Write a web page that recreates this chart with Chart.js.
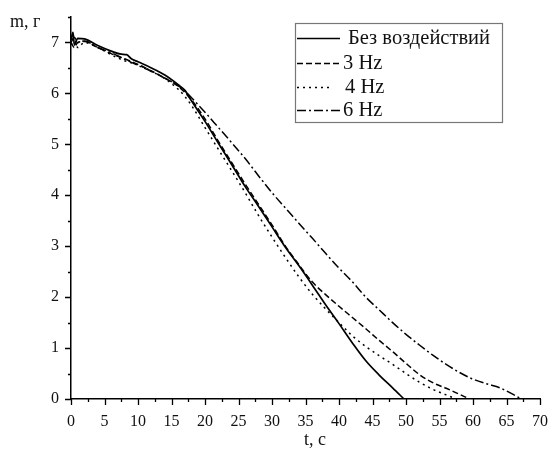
<!doctype html>
<html lang="ru">
  <head>
    <meta charset="utf-8">
    <title>m(t)</title>
    <style>
      * { margin: 0; padding: 0; }
      body { background: #fff; }
      .chartBox { width: 549px; height: 450px; }
    </style>
  </head>
  <body>
    <div class="chartBox">
      <canvas id="myChart"></canvas>
    </div>
    <script src="https://cdn.jsdelivr.net/npm/chart.js/dist/chart.umd.min.js"></script>
    <script>
      // data
      const seriesLabels = ['Без воздействий', '3 Hz', '4 Hz', '6 Hz'];

      const t0 = [0, 0.3, 0.5, 1, 2, 4, 6, 7.5, 8.3, 9, 10, 12, 14, 16, 17, 18, 20, 22, 24, 26, 28, 30, 32, 34, 36, 38, 40, 42, 44, 46, 48, 49.7];
      const m0 = [7.05, 7.2, 6.95, 7.08, 7.07, 6.94, 6.83, 6.77, 6.76, 6.68, 6.62, 6.5, 6.36, 6.17, 6.06, 5.85, 5.45, 5.02, 4.6, 4.17, 3.78, 3.38, 2.98, 2.62, 2.24, 1.85, 1.48, 1.1, 0.75, 0.47, 0.22, 0];

      const t3 = [0, 0.5, 1, 2, 4, 6, 8, 10, 12, 14, 16, 18, 20, 22, 24, 26, 28, 30, 32, 34, 36, 38, 40, 42, 44, 46, 48, 50, 52, 54, 56, 58, 59.5];
      const m3 = [7.0, 6.9, 7.0, 7.02, 6.9, 6.78, 6.68, 6.57, 6.44, 6.3, 6.14, 5.87, 5.5, 5.06, 4.64, 4.22, 3.82, 3.42, 3.0, 2.64, 2.3, 2.05, 1.82, 1.6, 1.38, 1.15, 0.93, 0.7, 0.48, 0.32, 0.21, 0.09, 0];

      const t4 = [0, 0.5, 1, 2, 4, 6, 8, 10, 12, 14, 16, 17, 18, 20, 22, 24, 26, 28, 30, 32, 34, 36, 38, 40, 42, 44, 46, 48, 50, 52, 54, 56, 57.5];
      const m4 = [6.95, 7.1, 6.9, 7.0, 6.9, 6.76, 6.64, 6.56, 6.44, 6.29, 6.08, 5.94, 5.76, 5.33, 4.9, 4.48, 4.05, 3.6, 3.18, 2.78, 2.4, 2.06, 1.77, 1.5, 1.24, 1.03, 0.85, 0.68, 0.5, 0.33, 0.19, 0.08, 0];

      const t6 = [0, 0.5, 1, 2, 4, 6, 8, 10, 12, 14, 16, 17, 18.8, 20, 22, 24, 26, 28, 30, 32, 34, 36, 38, 40, 42, 44, 46, 48, 50, 52, 54, 56, 58, 60, 62, 64, 66, 67.2];
      const m6 = [7.0, 7.1, 7.0, 7.03, 6.9, 6.8, 6.67, 6.55, 6.43, 6.3, 6.15, 6.05, 5.8, 5.63, 5.33, 5.03, 4.72, 4.38, 4.05, 3.75, 3.45, 3.16, 2.86, 2.57, 2.3, 2.0, 1.75, 1.5, 1.27, 1.06, 0.86, 0.68, 0.52, 0.39, 0.3, 0.22, 0.09, 0];

      const xTicks = [0, 5, 10, 15, 20, 25, 30, 35, 40, 45, 50, 55, 60, 65, 70];
      const yTicks = [0, 1, 2, 3, 4, 5, 6, 7];

      const serif = '"Liberation Serif", "Times New Roman", serif';
      const toPoints = (ts, ms) => ts.map((t, i) => ({ x: t, y: ms[i] }));

      const dashes = [[], [6, 3], [2, 4], [9, 3, 2, 3]];
      const sets = [[t0, m0], [t3, m3], [t4, m4], [t6, m6]];

      const data = {
        datasets: sets.map((s, i) => ({
          label: seriesLabels[i],
          data: toPoints(s[0], s[1]),
          borderColor: '#000',
          borderWidth: i === 0 ? 1.7 : 1.5,
          borderDash: dashes[i],
          pointRadius: 0,
          fill: false,
          cubicInterpolationMode: 'monotone'
        }))
      };

      // tick marks, axis titles and the boxed legend
      const decor = {
        id: 'decor',
        afterDraw(chart) {
          const { ctx, chartArea: a, scales: { x, y } } = chart;
          ctx.save();
          ctx.strokeStyle = '#000';
          ctx.lineWidth = 1.3;
          ctx.beginPath();
          for (let v = 0; v <= 70; v += 2.5) {
            const px = Math.round(x.getPixelForValue(v)) + 0.5;
            ctx.moveTo(px, a.bottom);
            ctx.lineTo(px, a.bottom + (v % 5 === 0 ? 6 : 3));
          }
          for (let v = 0; v <= 7.5; v += 0.5) {
            const py = Math.round(y.getPixelForValue(v)) + 0.5;
            ctx.moveTo(a.left, py);
            ctx.lineTo(a.left - (v % 1 === 0 ? 6 : 3), py);
          }
          ctx.stroke();

          ctx.fillStyle = '#111';
          ctx.font = '18px ' + serif;
          ctx.textBaseline = 'middle';
          ctx.textAlign = 'left';
          ctx.fillText('m, г', 10, 22);
          ctx.textAlign = 'center';
          ctx.fillText('t, c', 315, 440);

          // legend
          const lx = 295, ly = 23, lw = 207, lh = 99;
          ctx.strokeStyle = '#777';
          ctx.lineWidth = 1.2;
          ctx.strokeRect(lx + 0.5, ly + 0.5, lw, lh);
          const rows = [38, 63, 87, 110];
          const ends = [340, 342, 331, 343];
          const textX = [348, 343, 345, 343];
          ctx.font = '20.5px ' + serif;
          ctx.textAlign = 'left';
          chart.data.datasets.forEach((ds, i) => {
            ctx.strokeStyle = '#000';
            ctx.lineWidth = ds.borderWidth;
            ctx.setLineDash(ds.borderDash);
            ctx.beginPath();
            ctx.moveTo(lx + 2, rows[i] + 0.5);
            ctx.lineTo(ends[i], rows[i] + 0.5);
            ctx.stroke();
            ctx.setLineDash([]);
            ctx.fillText(ds.label, textX[i], rows[i] + 1);
          });
          ctx.restore();
        }
      };

      const config = {
        type: 'line',
        data,
        options: {
          responsive: false,
          animation: false,
          layout: { padding: { left: 0, top: 17, right: 1, bottom: 0 } },
          plugins: { legend: { display: false }, tooltip: { enabled: false } },
          scales: {
            x: {
              type: 'linear',
              min: 0,
              max: 70,
              afterFit(s) { s.height = 51; },
              afterBuildTicks(s) { s.ticks = xTicks.map(v => ({ value: v })); },
              // grid hidden; its tick length only offsets the labels
              grid: { display: false, drawTicks: true, tickLength: 12 },
              border: { display: true, color: '#000', width: 1.5 },
              ticks: {
                padding: 1,
                maxRotation: 0,
                autoSkip: false,
                color: '#111',
                font: { family: serif, size: 16 }
              }
            },
            y: {
              type: 'linear',
              min: 0,
              max: 7.5,
              afterFit(s) { s.width = 71; },
              afterBuildTicks(s) { s.ticks = yTicks.map(v => ({ value: v })); },
              grid: { display: false, drawTicks: true, tickLength: 11 },
              border: { display: true, color: '#000', width: 1.5 },
              ticks: {
                padding: 1,
                color: '#111',
                font: { family: serif, size: 16 }
              }
            }
          }
        },
        plugins: [decor]
      };

      const canvas = document.getElementById('myChart');
      canvas.width = 549;
      canvas.height = 450;
      new Chart(canvas, config);
    </script>
  </body>
</html>
